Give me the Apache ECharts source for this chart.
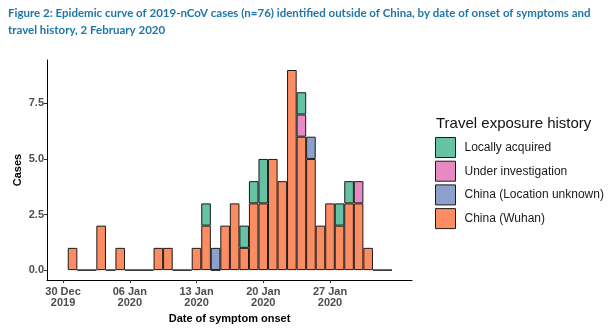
<!DOCTYPE html>
<html>
<head>
<meta charset="utf-8">
<script src="https://cdn.jsdelivr.net/npm/echarts@6/dist/echarts.min.js"></script>
<style>
html,body{margin:0;padding:0;background:#fff;}
#c{width:611px;height:329px;}
</style>
</head>
<body>
<div id="c"></div>
<script>
// ---- data ----
const originDate = '2019-12-30';
const dates = [
  '2019-12-31','2020-01-01','2020-01-02','2020-01-03','2020-01-04','2020-01-05','2020-01-06',
  '2020-01-07','2020-01-08','2020-01-09','2020-01-10','2020-01-11','2020-01-12','2020-01-13',
  '2020-01-14','2020-01-15','2020-01-16','2020-01-17','2020-01-18','2020-01-19','2020-01-20',
  '2020-01-21','2020-01-22','2020-01-23','2020-01-24','2020-01-25','2020-01-26','2020-01-27',
  '2020-01-28','2020-01-29','2020-01-30','2020-01-31','2020-02-01','2020-02-02'
];
const chinaWuhan = [1,0,0,2,0,1,0, 0,0,1,1,0,0,1, 2,0,2,3,1,3,3, 5,4,9,6,5,2,3, 2,3,3,1,0,0];
const chinaUnknown = [0,0,0,0,0,0,0, 0,0,0,0,0,0,0, 0,1,0,0,0,0,0, 0,0,0,0,1,0,0, 0,0,0,0,0,0];
const underInvestigation = [0,0,0,0,0,0,0, 0,0,0,0,0,0,0, 0,0,0,0,0,0,0, 0,0,0,1,0,0,0, 0,0,1,0,0,0];
const locallyAcquired = [0,0,0,0,0,0,0, 0,0,0,0,0,0,0, 1,0,0,0,1,1,2, 0,0,0,1,0,0,0, 1,1,0,0,0,0];
const seriesNames = ['China (Wuhan)','China (Location unknown)','Under investigation','Locally acquired'];
const tickDates = ['2019-12-30','2020-01-06','2020-01-13','2020-01-20','2020-01-27'];
const tickLabels = ['30 Dec\n2019','06 Jan\n2020','13 Jan\n2020','20 Jan\n2020','27 Jan\n2020'];
const yTicks = [0, 2.5, 5, 7.5];
const yTickLabels = ['0.0','2.5','5.0','7.5'];

// ---- helpers ----
const DAY = 86400000;
function dayOffset(d){ return Math.round((Date.parse(d) - Date.parse(originDate)) / DAY); }
const colors = ['#fc8d62','#8da0cb','#e78ac3','#66c2a5'];
const valueSets = [chinaWuhan, chinaUnknown, underInvestigation, locallyAcquired];
const tickPos = tickDates.map(dayOffset);

// value first (dim 0) so that the stack is applied on the count, day offset second
const series = valueSets.map((vals, k) => ({
  name: seriesNames[k],
  type: 'bar',
  stack: 'cases',
  barWidth: 9.6,
  encode: { x: 1, y: 0 },
  dimensions: [{ name: 'count', type: 'float' }, { name: 'day', type: 'float' }],
  itemStyle: { color: colors[k], borderColor: '#1a1a1a', borderWidth: 1 },
  emphasis: { disabled: true },
  animation: false,
  data: dates.map((d, i) => [(k === 0 || vals[i] > 0) ? vals[i] : '-', dayOffset(d)])
}));

const chart = echarts.init(document.getElementById('c'), null, { renderer: 'canvas' });
chart.setOption({
  backgroundColor: '#fff',
  animation: false,
  title: [
    {
      text: 'Figure 2: Epidemic curve of 2019-nCoV cases (n=76) identified outside of China, by date of onset of symptoms and\ntravel history, 2 February 2020',
      left: 3, top: 0,
      textStyle: { fontFamily: 'Lato', fontWeight: 'bold', fontSize: 11.5, color: '#1f76a8', lineHeight: 17 }
    },
    {
      text: 'Travel exposure history',
      left: 431, top: 111,
      textStyle: { fontFamily: 'Liberation Sans', fontWeight: 'normal', fontSize: 15, color: '#111' }
    }
  ],
  legend: {
    data: ['Locally acquired','Under investigation','China (Location unknown)','China (Wuhan)'],
    orient: 'vertical',
    left: 430, top: 132,
    itemWidth: 20, itemHeight: 20, itemGap: 2.7,
    icon: 'rect',
    itemStyle: { borderColor: '#1a1a1a', borderWidth: 1 },
    textStyle: { fontFamily: 'Liberation Sans', fontSize: 12, color: '#1a1a1a', padding: [0,0,0,4] },
    selectedMode: false
  },
  grid: { left: 47, right: 199, top: 60, bottom: 46.5, containLabel: false },
  xAxis: {
    type: 'value',
    min: -1.68, max: 36.6,
    splitLine: { show: false },
    axisLine: { show: true, onZero: false, lineStyle: { color: '#000', width: 1 } },
    axisTick: { show: true, length: 3, customValues: tickPos, lineStyle: { color: '#333' } },
    axisLabel: {
      customValues: tickPos,
      formatter: v => tickLabels[tickPos.indexOf(v)] || '',
      fontFamily: 'Liberation Sans', fontWeight: 'bold', fontSize: 11, color: '#4d4d4d',
      lineHeight: 11, margin: 6
    },
    name: 'Date of symptom onset',
    nameLocation: 'middle', nameGap: 30,
    nameTextStyle: { fontFamily: 'Liberation Sans', fontWeight: 'bold', fontSize: 11, color: '#000' }
  },
  yAxis: {
    type: 'value',
    min: -0.45, max: 9.45,
    splitLine: { show: false },
    axisLine: { show: true, onZero: false, lineStyle: { color: '#000', width: 1 } },
    axisTick: { show: true, length: 3, customValues: yTicks, lineStyle: { color: '#333' } },
    axisLabel: {
      customValues: yTicks,
      formatter: v => yTickLabels[yTicks.indexOf(v)] || '',
      fontFamily: 'Liberation Sans', fontWeight: 'bold', fontSize: 11, color: '#4d4d4d', margin: 3
    },
    name: 'Cases',
    nameLocation: 'middle', nameGap: 24, nameRotate: 90, nameMoveOverlap: false,
    nameTextStyle: { fontFamily: 'Liberation Sans', fontWeight: 'bold', fontSize: 11, color: '#000' }
  },
  series: series
});
</script>
</body>
</html>
